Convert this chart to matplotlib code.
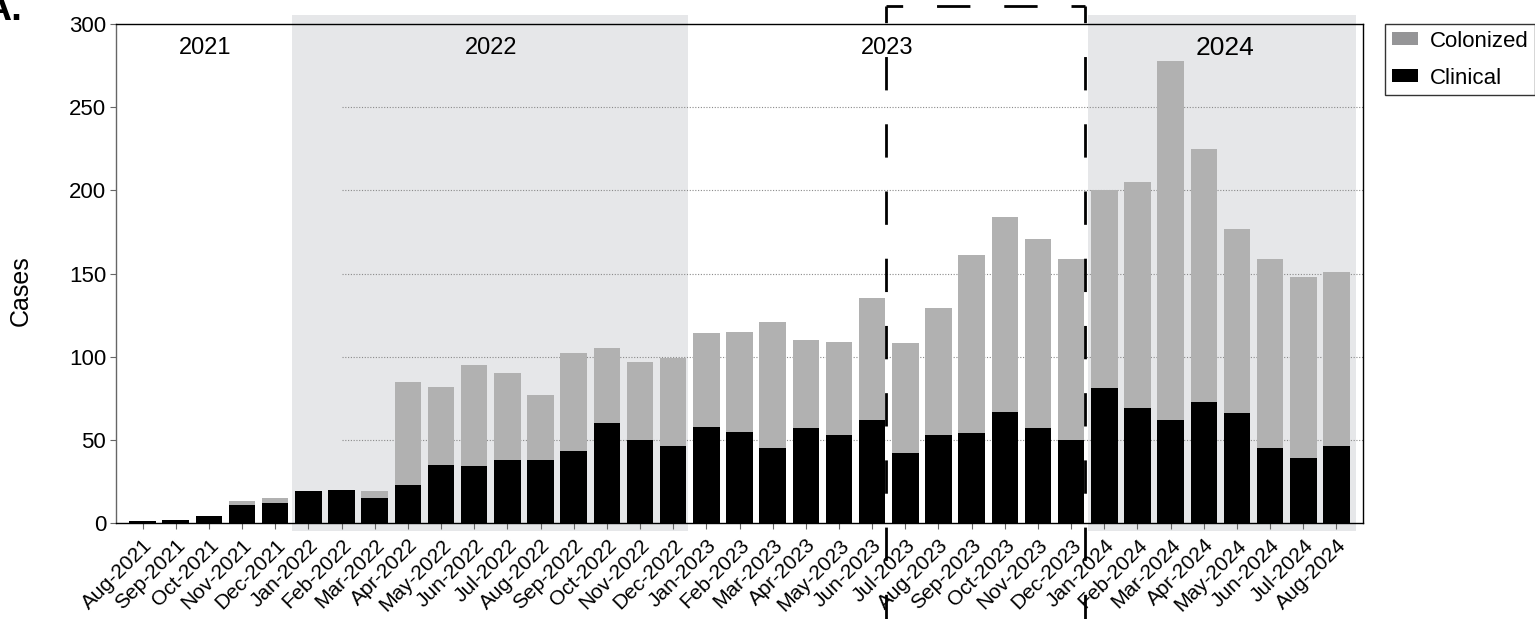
import numpy as np
import matplotlib.pyplot as plt
from matplotlib.patches import Rectangle, Patch
from matplotlib.lines import Line2D
from matplotlib.transforms import blended_transform_factory

plt.rcParams['font.family'] = ['Liberation Sans', 'DejaVu Sans']

# monthly cases, Aug-2021 .. Aug-2024
months = ['Aug-2021', 'Sep-2021', 'Oct-2021', 'Nov-2021', 'Dec-2021',
          'Jan-2022', 'Feb-2022', 'Mar-2022', 'Apr-2022', 'May-2022', 'Jun-2022',
          'Jul-2022', 'Aug-2022', 'Sep-2022', 'Oct-2022', 'Nov-2022', 'Dec-2022',
          'Jan-2023', 'Feb-2023', 'Mar-2023', 'Apr-2023', 'May-2023', 'Jun-2023',
          'Jul-2023', 'Aug-2023', 'Sep-2023', 'Oct-2023', 'Nov-2023', 'Dec-2023',
          'Jan-2024', 'Feb-2024', 'Mar-2024', 'Apr-2024', 'May-2024', 'Jun-2024',
          'Jul-2024', 'Aug-2024']
clinical = [1, 2, 4, 11, 12, 19, 20, 15, 23, 35, 34, 38, 38, 43, 60, 50, 46,
            58, 55, 45, 57, 53, 62, 42, 53, 54, 67, 57, 50,
            81, 69, 62, 73, 66, 45, 39, 46]
colonized = [0, 0, 0, 2, 3, 0, 0, 4, 62, 47, 61, 52, 39, 59, 45, 47, 53,
             56, 60, 76, 53, 56, 73, 66, 76, 107, 117, 114, 109,
             119, 136, 216, 152, 111, 114, 109, 105]
years = ['2021', '2022', '2023', '2024']

W, H = 1535, 619
fig = plt.figure(figsize=(W / 100, H / 100), dpi=100)
ax = fig.add_axes([116 / W, 1 - 523 / H, (1363 - 116) / W, (523 - 24) / H])

x = np.arange(len(months))
ax.bar(x, clinical, width=0.8, color='black', zorder=2, label='Clinical')
ax.bar(x, colonized, bottom=clinical, width=0.8, color='#b1b1b1', zorder=2,
       label='Colonized')

ax.set_xlim(-0.8, len(months) - 0.2)
ax.set_ylim(0, 300)

# grey bands for 2022 and 2024
for x0, x1 in [(4.5, 16.45), (28.5, 36.6)]:
    ax.add_patch(Rectangle((x0, -5), x1 - x0, 310.5, facecolor='#e6e7e9',
                           lw=0, zorder=0, clip_on=False))

ax.hlines([50, 100, 150, 200, 250], 6, len(months) - 0.2, colors='#8a8a8a',
          linestyles=(0, (1, 1.5)), lw=0.8, zorder=1)

# year labels
for lab, xp, fs in zip(years, [1.88, 10.5, 22.45, 32.64], [17, 17, 17, 19]):
    ax.text(xp, 285.5, lab, ha='center', va='center', fontsize=fs)

ax.set_xticks(x)
ax.set_xticklabels(months, rotation=45, ha='right', va='top',
                   rotation_mode='anchor', fontsize=15)
ax.set_yticks(range(0, 301, 50))
ax.tick_params(axis='y', labelsize=16, length=4, color='#666666', pad=3)
ax.tick_params(axis='x', length=4, color='#666666', pad=5)
for s in ['top', 'right', 'bottom']:
    ax.spines[s].set_color('black')
    ax.spines[s].set_linewidth(1)
ax.spines['left'].set_color('#666666')
ax.spines['left'].set_linewidth(1)

ax.set_ylabel('Cases', fontsize=18)
ax.yaxis.set_label_coords(-0.0666, 0.465)

handles = [Patch(facecolor='#959597', edgecolor='none', label='Colonized'),
           Patch(facecolor='black', edgecolor='none', label='Clinical')]
leg = fig.legend(handles=handles, loc='upper left',
                 bbox_to_anchor=(1385 / W, 1 - 24 / H), frameon=True,
                 fancybox=False, edgecolor='black', fontsize=16,
                 handlelength=1.2, handleheight=0.5, borderaxespad=0,
                 borderpad=0.3, labelspacing=0.72, handletextpad=0.5)
leg.get_frame().set_linewidth(1.0)

# dashed box around Jul-Dec 2023
tr = blended_transform_factory(ax.transData, fig.transFigure)
top = 1 - 6 / H
xl, xr = 22.41, 28.41
for xs, ys in [((xl, xl), (top, -0.02)), ((xl, xr), (top, top)),
               ((xr, xr), (top, -0.02))]:
    fig.add_artist(Line2D(xs, ys, transform=tr, color='black', lw=2,
                          linestyle=(6, (12, 12.2)), dash_capstyle='butt'))

fig.text(22 / W, 1 - 20 / H, 'A.', fontsize=28, fontweight='bold',
         ha='right', va='baseline')

fig.savefig('out.png', dpi=100)
